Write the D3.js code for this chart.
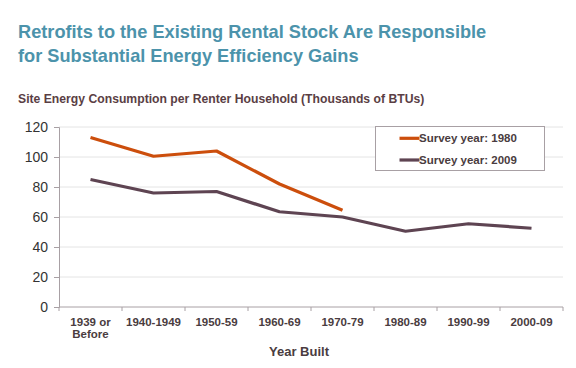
<!DOCTYPE html>
<html><head><meta charset="utf-8">
<script src="https://cdn.jsdelivr.net/npm/d3@7"></script>
<style>body{margin:0;background:#fff;}svg{display:block;font-family:"Liberation Sans",Arial,sans-serif;}</style>
</head><body><svg id="c" width="576" height="368"></svg>
<script>
const categories = ["1939 or\nBefore","1940-1949","1950-59","1960-69","1970-79","1980-89","1990-99","2000-09"];
const survey1980 = [113, 100.5, 104, 82, 64.5, null, null, null];
const survey2009 = [85, 76, 77, 63.5, 60, 50.5, 55.5, 52.5];
const yTicks = [0,20,40,60,80,100,120];
const seriesNames = ["Survey year: 1980","Survey year: 2009"];
const colors = ["#cc4e0c","#5e4452"];
const FF = "'Liberation Sans',Arial,sans-serif";

const svg = d3.select("#c");
const x = d3.scaleBand().domain(categories).range([59,563]);
const y = d3.scaleLinear().domain([0,120]).range([307,127]);

svg.append("text").attr("x",18).attr("y",38).attr("fill","#4c93ab").attr("font-size",18.2).attr("font-weight","bold").text("Retrofits to the Existing Rental Stock Are Responsible");
svg.append("text").attr("x",18).attr("y",62).attr("fill","#4c93ab").attr("font-size",18.2).attr("font-weight","bold").text("for Substantial Energy Efficiency Gains");
svg.append("text").attr("x",18).attr("y",103).attr("fill","#5a3e44").attr("font-size",12.2).attr("font-weight","bold").text("Site Energy Consumption per Renter Household (Thousands of BTUs)");

// gridlines
svg.append("g").selectAll("line").data(yTicks.filter(d=>d>0)).join("line")
  .attr("x1",59).attr("x2",563).attr("y1",d=>y(d)).attr("y2",d=>y(d))
  .attr("stroke","#e4e4e4").attr("stroke-width",1);

// y axis
const ya = svg.append("g").attr("transform","translate(59,0)")
  .call(d3.axisLeft(y).tickValues(yTicks).tickSize(5).tickPadding(6));
ya.select(".domain").attr("stroke","#a8a0a4");
ya.selectAll(".tick line").attr("stroke","#a8a0a4");
ya.selectAll(".tick text").attr("font-size",14).attr("fill","#333").attr("font-family",FF);

// x axis
const xa = svg.append("g").attr("transform","translate(0,307)")
  .call(d3.axisBottom(x).tickSize(0).tickFormat(""));
xa.select(".domain").attr("stroke","#a8a0a4").attr("d","M59,0H563");
svg.append("g").selectAll("line").data(d3.range(categories.length+1)).join("line")
  .attr("x1",i=>59+i*x.step()).attr("x2",i=>59+i*x.step()).attr("y1",307).attr("y2",311)
  .attr("stroke","#a8a0a4");
const xl = svg.append("g").selectAll("text").data(categories).join("text")
  .attr("x",d=>x(d)+x.bandwidth()/2).attr("y",326).attr("text-anchor","middle")
  .attr("font-size",11.5).attr("font-weight","bold").attr("fill","#4a3c40");
xl.each(function(d){
  const parts=d.split("\n");
  parts.forEach((p,i)=>d3.select(this).append("tspan").attr("x",x(d)+x.bandwidth()/2).attr("dy",i?12:0).text(p));
});
svg.append("text").attr("x",299).attr("y",356).attr("text-anchor","middle").attr("font-size",13).attr("font-weight","bold").attr("fill","#4a3c40").text("Year Built");

const line = d3.line().defined(d=>d.v!=null).x(d=>x(d.c)+x.bandwidth()/2).y(d=>y(d.v));
[survey1980,survey2009].forEach((s,i)=>{
  svg.append("path").datum(categories.map((c,j)=>({c,v:s[j]})))
    .attr("d",line).attr("fill","none").attr("stroke",colors[i]).attr("stroke-width",3.2).attr("stroke-linejoin","round");
});

// legend
const lg = svg.append("g");
lg.append("rect").attr("x",375.5).attr("y",126.5).attr("width",169).attr("height",44).attr("fill","#fff").attr("stroke","#a8a0a4");
seriesNames.forEach((n,i)=>{
  const yy = 138.3+i*21.7;
  lg.append("line").attr("x1",399.5).attr("x2",419.5).attr("y1",yy).attr("y2",yy).attr("stroke",colors[i]).attr("stroke-width",3.2);
  lg.append("text").attr("x",419).attr("y",yy+4).attr("font-size",11.5).attr("font-weight","bold").attr("fill","#4a3c40").text(n);
});
</script></body></html>
